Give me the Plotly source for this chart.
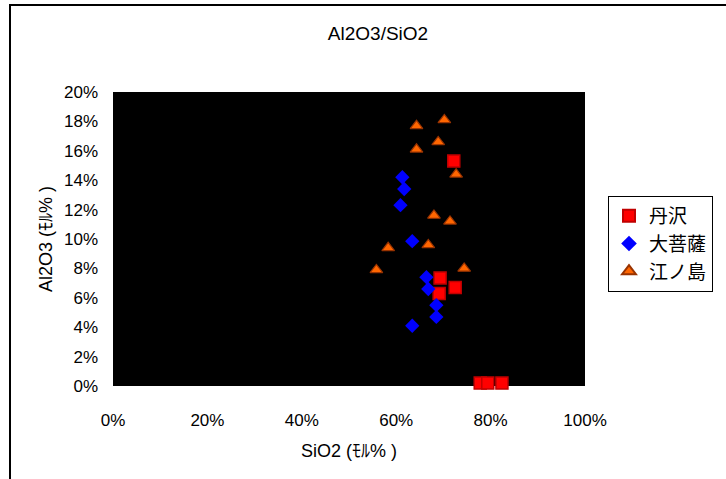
import plotly.graph_objects as go

# Data (fractions)
tanzawa_x = [0.722, 0.693, 0.725, 0.691, 0.778, 0.794, 0.824]
tanzawa_y = [0.153, 0.0735, 0.067, 0.063, 0.002, 0.002, 0.002]

obosatsu_x = [0.613, 0.617, 0.609, 0.634, 0.664, 0.668, 0.685, 0.685, 0.634]
obosatsu_y = [0.142, 0.134, 0.123, 0.0985, 0.074, 0.066, 0.055, 0.047, 0.041]

enoshima_x = [0.702, 0.643, 0.689, 0.643, 0.727, 0.680, 0.714, 0.583, 0.668, 0.558, 0.744]
enoshima_y = [0.181, 0.177, 0.166, 0.161, 0.144, 0.116, 0.112, 0.094, 0.096, 0.079, 0.080]

series_names = ["丹沢", "大菩薩", "江ノ島"]
title_text = "Al2O3/SiO2"
x_title = "SiO2 (ﾓﾙ% )"
y_title = "Al2O3 (ﾓﾙ% )"

FONT = "Liberation Sans, Arial, Noto Sans CJK JP, sans-serif"

fig = go.Figure()
fig.add_trace(go.Scatter(
    x=tanzawa_x, y=tanzawa_y, mode="markers", name=series_names[0],
    marker=dict(symbol="square", size=12, color="#FF0000",
                line=dict(color="#C00000", width=1.5)),
    cliponaxis=False))
fig.add_trace(go.Scatter(
    x=obosatsu_x, y=obosatsu_y, mode="markers", name=series_names[1],
    marker=dict(symbol="diamond", size=11, color="#0000FF",
                line=dict(color="#0000FF", width=0)),
    cliponaxis=False))
fig.add_trace(go.Scatter(
    x=enoshima_x, y=enoshima_y, mode="markers", name=series_names[2],
    marker=dict(symbol="triangle-up", size=11, color="#FF6600",
                line=dict(color="#993300", width=1.2)),
    cliponaxis=False))

fig.update_layout(
    width=726, height=479,
    margin=dict(l=113, r=141, t=92, b=93),
    paper_bgcolor="white", plot_bgcolor="black",
    font=dict(family=FONT, size=17, color="black"),
    title=dict(text=title_text, x=(378-113)/472, xref="paper", xanchor="center",
               y=1-33/479, yanchor="middle", font=dict(size=19)),
    showlegend=True,
    legend=dict(x=(608-113)/472, y=(386-196)/294, xanchor="left", yanchor="top",
                bordercolor="black", borderwidth=1, bgcolor="white",
                font=dict(size=19, family="Noto Sans CJK JP, sans-serif"),
                itemsizing="constant", tracegroupgap=0),
    xaxis=dict(range=[0, 1], dtick=0.2, tickformat=".0%", showgrid=False,
               zeroline=False, showline=False, ticks="", ticklen=0,
               ticklabelstandoff=22,
               title=dict(text=x_title, font=dict(size=18), standoff=15)),
    yaxis=dict(range=[0, 0.2], dtick=0.02, tickformat=".0%", showgrid=False,
               zeroline=False, showline=False, ticks="",
               ticklabelstandoff=14,
               title=dict(text=y_title, font=dict(size=18), standoff=6)),
    shapes=[dict(type="rect", xref="paper", yref="paper",
                 x0=(10-113)/472, x1=(740-113)/472,
                 y0=(386-490)/294, y1=(386-5)/294,
                 line=dict(color="black", width=2), fillcolor="rgba(0,0,0,0)",
                 layer="below")],
)

fig.write_html("out.html")
